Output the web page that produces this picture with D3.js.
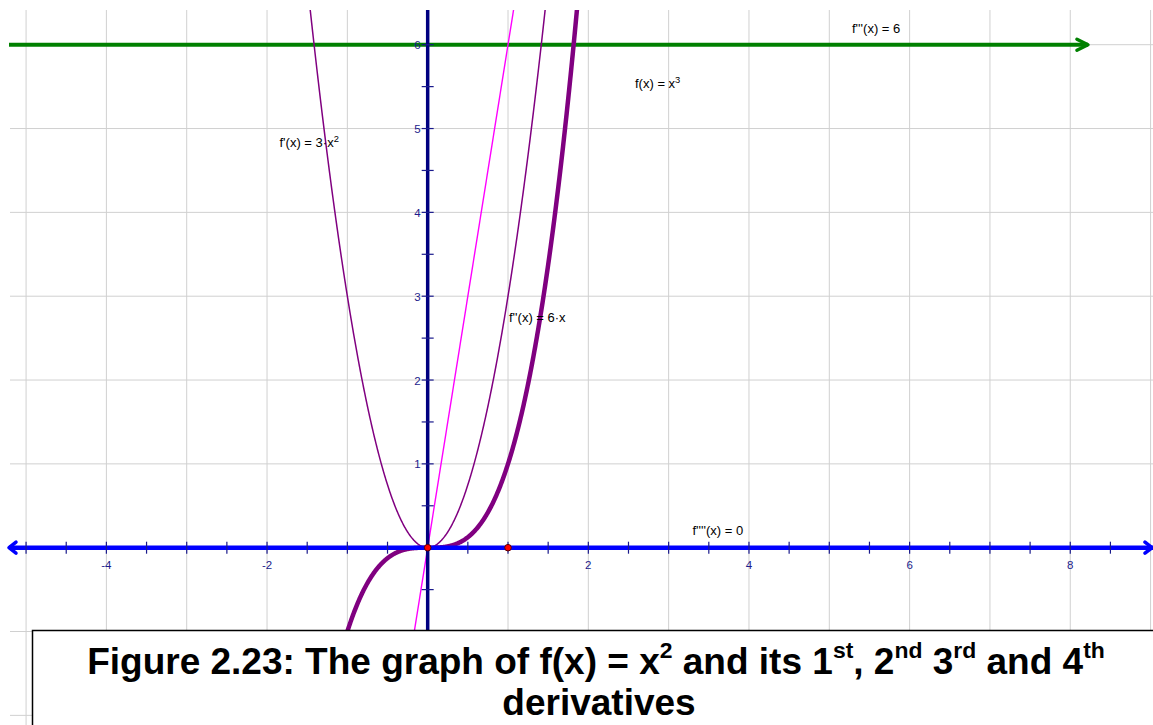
<!DOCTYPE html>
<html>
<head>
<meta charset="utf-8">
<script src="https://cdn.jsdelivr.net/npm/d3@7"></script>
<style>
  html, body { margin: 0; padding: 0; background: #ffffff; }
  svg { display: block; }
  text { font-family: Arial, "Liberation Sans", sans-serif; }
</style>
</head>
<body>
<svg id="chart" width="1153" height="725"></svg>
<script>
// Polynomial coefficients, lowest power first: f, f', f'', f''', f''''
const fCoeffs = [0, 0, 0, 1];     // x^3
const f1Coeffs = [0, 0, 3];       // 3x^2
const f2Coeffs = [0, 6];          // 6x
const f3Value = 6;                // constant third derivative
const f3End = 8.22;               // end of the f''' vector
const f4Value = 0;                // fourth derivative (lies on the x-axis)

// Marked points on the x-axis
const pointsX = [0, 1];
const pointsY = [0, 0];

// Axis ticks and labels
const xTickValues = d3.range(-5, 9, 0.5).filter(v => v !== 0);
const yTickValues = d3.range(-2, 6.5, 0.5).filter(v => v !== 0);
const xTickLabels = [-4, -2, 2, 4, 6, 8];
const yTickLabels = [1, 2, 3, 4, 5, 6];
const xGrid = d3.range(-5, 10, 1);
const yGrid = d3.range(-2, 7, 1);

const xDomain = [-5.2, 9.03];
const yDomain = [-2.115, 6.414];

const W = 1153, H = 725;
const svg = d3.select("#chart");

const x = d3.scaleLinear().domain(xDomain).range([10, W]);
const y = d3.scaleLinear().domain(yDomain).range([H, 10]);

const evalPoly = (c, t) => c.reduce((s, a, i) => s + a * Math.pow(t, i), 0);

svg.append("defs").append("clipPath").attr("id", "plot-clip")
  .append("rect").attr("x", 9).attr("y", 10).attr("width", W - 9).attr("height", H - 10);

const plot = svg.append("g").attr("clip-path", "url(#plot-clip)");

// grid
plot.append("g").selectAll("line").data(xGrid).join("line")
  .attr("x1", d => x(d)).attr("x2", d => x(d))
  .attr("y1", y(yDomain[1])).attr("y2", y(yDomain[0]))
  .attr("stroke", "#d0d0d0").attr("stroke-width", 1);
plot.append("g").selectAll("line").data(yGrid).join("line")
  .attr("y1", d => y(d)).attr("y2", d => y(d))
  .attr("x1", x(xDomain[0])).attr("x2", x(xDomain[1]))
  .attr("stroke", "#d0d0d0").attr("stroke-width", 1);

// f'''(x) = 6 vector
const green = "#008000";
plot.append("line")
  .attr("x1", x(xDomain[0]) - 5).attr("x2", x(f3End))
  .attr("y1", y(f3Value)).attr("y2", y(f3Value))
  .attr("stroke", green).attr("stroke-width", 4);

function chevron(g, tipX, tipY, dir, color, len, half, width) {
  g.append("path")
    .attr("d", `M${tipX - dir * len},${tipY - half}L${tipX},${tipY}L${tipX - dir * len},${tipY + half}`)
    .attr("fill", "none").attr("stroke", color).attr("stroke-width", width)
    .attr("stroke-linecap", "round").attr("stroke-linejoin", "round");
}
chevron(svg, x(f3End), y(f3Value), 1, green, 11, 5.5, 3.5);

// x-axis
const blue = "#0000ff";
const navy = "#000080";
svg.append("line")
  .attr("x1", 9).attr("x2", W).attr("y1", y(f4Value)).attr("y2", y(f4Value))
  .attr("stroke", blue).attr("stroke-width", 4.5);
chevron(svg, 9, y(0), -1, blue, 7, 5.5, 3.5);
chevron(svg, W - 1, y(0), 1, blue, 7, 5.5, 3.5);

// y-axis
svg.append("line")
  .attr("x1", x(0)).attr("x2", x(0)).attr("y1", 10).attr("y2", H)
  .attr("stroke", navy).attr("stroke-width", 3.5);

// tick marks
svg.append("g").selectAll("line").data(xTickValues).join("line")
  .attr("x1", d => x(d)).attr("x2", d => x(d))
  .attr("y1", y(0) - 6).attr("y2", y(0) + 6)
  .attr("stroke", "#1a1a8c").attr("stroke-width", 1.2);
svg.append("g").selectAll("line").data(yTickValues).join("line")
  .attr("y1", d => y(d)).attr("y2", d => y(d))
  .attr("x1", x(0) - 6).attr("x2", x(0) + 6)
  .attr("stroke", "#1a1a8c").attr("stroke-width", 1.2);

// tick labels
svg.append("g").selectAll("text").data(xTickLabels).join("text")
  .attr("x", d => x(d)).attr("y", y(0) + 21)
  .attr("text-anchor", "middle").attr("font-size", 11.5).attr("fill", "#1c1c8c")
  .text(d => d);
svg.append("g").selectAll("text").data(yTickLabels).join("text")
  .attr("x", x(0) - 7).attr("y", d => y(d) + 4.5)
  .attr("text-anchor", "end").attr("font-size", 11.5).attr("fill", "#1c1c8c")
  .text(d => d);

// curves
const xs = d3.range(xDomain[0], xDomain[1], 0.005);
const curve = (coeffs) => d3.line()
  .defined(t => { const v = evalPoly(coeffs, t); return v > -4 && v < 8; })
  .x(t => x(t)).y(t => y(evalPoly(coeffs, t)))(xs);

plot.append("path").attr("d", curve(f2Coeffs))
  .attr("fill", "none").attr("stroke", "#ff00ff").attr("stroke-width", 1.4);
plot.append("path").attr("d", curve(f1Coeffs))
  .attr("fill", "none").attr("stroke", "#800080").attr("stroke-width", 1.5);
plot.append("path").attr("d", curve(fCoeffs))
  .attr("fill", "none").attr("stroke", "#800080").attr("stroke-width", 4.5);

// points
svg.append("g").selectAll("circle").data(pointsX).join("circle")
  .attr("cx", d => x(d)).attr("cy", (d, i) => y(pointsY[i]))
  .attr("r", 3.3).attr("fill", "#ff0000").attr("stroke", "#5a0000").attr("stroke-width", 1);

// text with superscripts
function richText(g, px, py, parts, size, opts = {}) {
  const t = g.append("text").attr("x", px).attr("y", py)
    .attr("font-size", size).attr("fill", opts.fill || "#000")
    .attr("font-weight", opts.weight || "normal")
    .attr("text-anchor", opts.anchor || "start");
  let raised = false;
  const shift = size * (opts.shift || 0.42);
  const supScale = opts.supScale || 0.62;
  parts.forEach(p => {
    const sup = Array.isArray(p);
    const s = sup ? p[0] : p;
    const ts = t.append("tspan").text(s);
    if (sup) {
      ts.attr("font-size", size * supScale);
      if (!raised) { ts.attr("dy", -shift); raised = true; }
    } else if (raised) {
      ts.attr("dy", shift); raised = false;
    }
  });
  return t;
}

// function labels
const labelSize = 13;
const labelOpts = { supScale: 0.72, shift: 0.38 };
richText(svg, 852, 33, ["f'''(x) = 6"], labelSize, labelOpts);
richText(svg, 635, 87.5, ["f(x) = x", ["3"]], labelSize, labelOpts);
richText(svg, 279.5, 146.5, ["f'(x) = 3·x", ["2"]], labelSize, labelOpts);
richText(svg, 509, 322, ["f''(x) = 6·x"], labelSize, labelOpts);
richText(svg, 692.5, 535, ["f''''(x) = 0"], labelSize, labelOpts);

// caption box
svg.append("rect").attr("x", 32.5).attr("y", 630.5).attr("width", 1200).attr("height", 200)
  .attr("fill", "#ffffff").attr("stroke", "#000").attr("stroke-width", 1.5);

const capSize = 37;
richText(svg, 596, 674,
  ["Figure 2.23: The graph of f(x) = x", ["2"], " and its 1", ["st"], ", 2", ["nd"], " 3", ["rd"], " and 4", ["th"]],
  capSize, { weight: "bold", anchor: "middle" });
richText(svg, 599, 715, ["derivatives"], capSize, { weight: "bold", anchor: "middle" });
</script>
</body>
</html>
